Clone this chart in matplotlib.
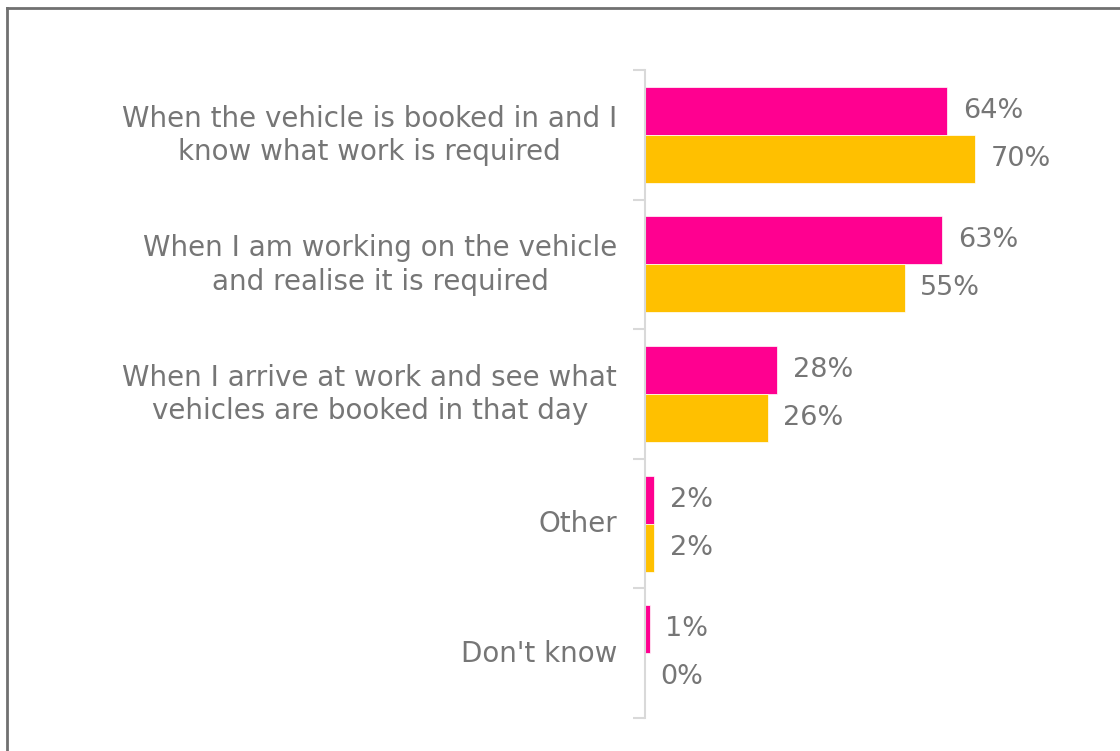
import matplotlib.pyplot as plt
import numpy as np
from matplotlib.lines import Line2D

# Survey responses: when parts are ordered
categories = ['When the vehicle is booked in and I\nknow what work is required',
              'When I am working on the vehicle\nand realise it is required',
              'When I arrive at work and see what\nvehicles are booked in that day',
              'Other',
              "Don't know"]
series_a = [64, 63, 28, 2, 1]
series_b = [70, 55, 26, 2, 0]

pink = '#FF0090'
gold = '#FFC000'
grey = '#767676'

fig = plt.figure(figsize=(11.2, 7.51), dpi=100)
ax = fig.add_axes([0.5759, 0.0439, 0.4214, 0.8629])

y = np.arange(len(categories))
h = 0.37
ax.barh(y - h / 2, series_a, height=h, color=pink, edgecolor='white', linewidth=0.5)
ax.barh(y + h / 2, series_b, height=h, color=gold, edgecolor='white', linewidth=0.5)

for i in range(len(categories)):
    ax.text(series_a[i] + 3.3, y[i] - h / 2, f'{series_a[i]}%', va='center', ha='left',
            fontsize=19.5, color=grey)
    ax.text(series_b[i] + 3.3, y[i] + h / 2, f'{series_b[i]}%', va='center', ha='left',
            fontsize=19.5, color=grey)

# category labels, right aligned to the left of the axis, lines centred
for i, cat in enumerate(categories):
    ax.text(-0.059, y[i] + 0.005, cat, transform=ax.get_yaxis_transform(),
            ha='right', va='center', multialignment='center', linespacing=1.25,
            fontsize=20, color=grey)

ax.set_xlim(0, 100)
ax.set_ylim(len(categories) - 0.5, -0.5)
ax.set_yticks(np.arange(-0.5, len(categories)))
ax.set_yticklabels([])
ax.tick_params(axis='y', length=9, color='#D9D9D9', width=1.5)
ax.set_xticks([])
for s in ['top', 'right', 'bottom']:
    ax.spines[s].set_visible(False)
ax.spines['left'].set_color('#D9D9D9')
ax.spines['left'].set_linewidth(1.5)

# frame lines along top and left of the figure
fig.add_artist(Line2D([7 / 1120, 7 / 1120], [0, 1 - 8 / 751], transform=fig.transFigure,
                      color='#707070', linewidth=2))
fig.add_artist(Line2D([7 / 1120, 1], [1 - 8 / 751, 1 - 8 / 751], transform=fig.transFigure,
                      color='#707070', linewidth=2))

plt.savefig('out.png', format='png')
